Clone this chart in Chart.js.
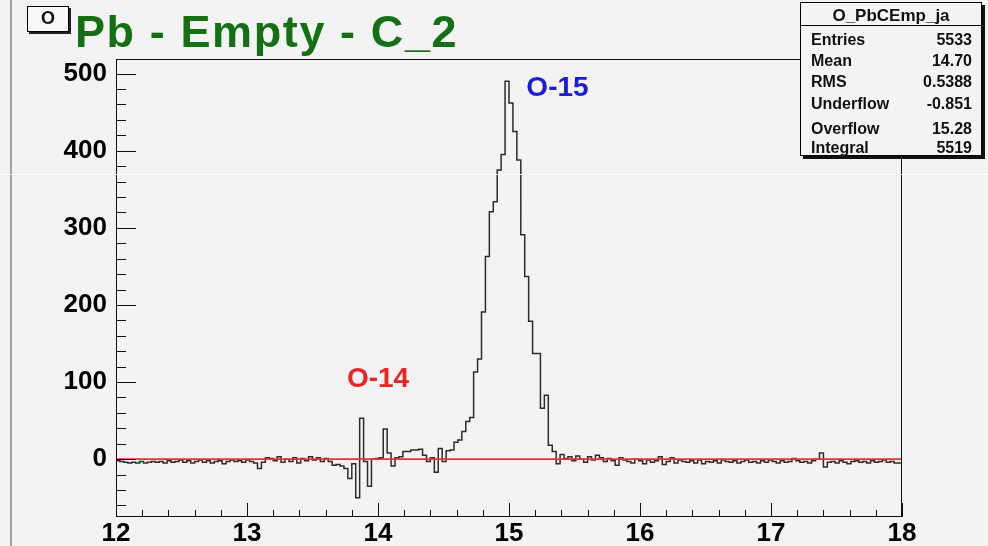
<!DOCTYPE html>
<html>
<head>
<meta charset="utf-8">
<title>Pb - Empty - C_2</title>
<script src="https://cdn.jsdelivr.net/npm/chart.js@4.4.1/dist/chart.umd.min.js"></script>
<style>
    html, body { margin: 0; padding: 0; background: #f3f3f3; }
    #wrap { position: relative; width: 988px; height: 546px; overflow: hidden;
            font-family: "Liberation Sans", Arial, sans-serif; }
    #wrap canvas { position: absolute; left: 0; top: 0; }
    #leftEdge { position: absolute; left: 10px; top: 0; width: 2px; height: 546px; background: #a4a4a4; }
    #titleBox { position: absolute; left: 27px; top: 6px; width: 42px; height: 26px; box-sizing: border-box;
                border: 1px solid #000; background: #f8f8f8; box-shadow: 2px 2px 0 #222;
                font-size: 18px; font-weight: bold; text-align: center; line-height: 22px; color: #111; }
    #title { position: absolute; left: 75px; top: 9px; font-size: 45px; line-height: 45px; font-weight: bold;
             letter-spacing: 1.6px; color: #157015; white-space: nowrap; }
    #stats { position: absolute; left: 800px; top: 2px; width: 182px; height: 154px; box-sizing: border-box;
             border: 1px solid #000; background: #f4f4f4; box-shadow: 3px 3px 0 #111; color: #111;
             font-weight: bold; }
    #stats .head { position: absolute; left: 0; right: 0; top: 0; height: 22px; border-bottom: 1px solid #000;
                   text-align: center; font-size: 17px; line-height: 25px; }
    #stats .row { position: absolute; left: 10px; right: 9px; height: 20px; line-height: 20px; font-size: 16px;
                  display: flex; justify-content: space-between; }
    #scanLine { position: absolute; left: 0; top: 174px; width: 988px; height: 1px; background: rgba(255,255,255,0.9); }
</style>
</head>
<body>
<div id="wrap">
    <canvas id="histo" width="988" height="546"></canvas>
    <div id="leftEdge"></div>
    <div id="titleBox">O</div>
    <div id="title">Pb - Empty - C_2</div>
    <div id="stats">
        <div class="head">O_PbCEmp_ja</div>
        <div class="row" style="top:27px"><span>Entries</span><span>5533</span></div>
        <div class="row" style="top:48px"><span>Mean</span><span>14.70</span></div>
        <div class="row" style="top:69px"><span>RMS</span><span>0.5388</span></div>
        <div class="row" style="top:91px"><span>Underflow</span><span>-0.851</span></div>
        <div class="row" style="top:116px"><span>Overflow</span><span>15.28</span></div>
        <div class="row" style="top:135px"><span>Integral</span><span>5519</span></div>
    </div>
    <div id="scanLine"></div>
</div>
<script>
// Histogram binning: 200 bins of 0.03 between 12 and 18
const xMin = 12;
const xMax = 18;
const binWidth = 0.03;

// Bin contents (background subtracted), left to right
const counts = [
    -3, -2, -3, -4, -5, -4, -5, -3, -5, -4,
    -3, -4, -3, -5, -2, -4, -3, -1, -4, -2,
    -5, -3, -1, -4, -2, -5, -3, -2, -6, -3,
    -1, -3, -2, -4, -1, -3, -5, -12, -4, 2,
    1, -2, 3, -4, 0, -3, 2, -5, 1, -2,
    3, -1, 2, -3, 1, -3, -8, -7, -9, -12,
    -25, -6, -50, 53, -3, -35, 0, 1, 2, 39,
    8, -9, 2, 3, 10, 10, 12, 12, 13, 5,
    -3, 2, -17, 14, -3, 11, 12, 22, 25, 36,
    49, 54, 113, 130, 191, 263, 321, 334, 375, 395,
    490, 462, 425, 388, 291, 237, 179, 137, 137, 66,
    83, 18, 10, -6, 6, 1, 3, -2, 4, 0,
    -4, 3, -1, 5, 2, -3, 1, -2, -8, 2,
    -1, -3, -5, 0, -2, -6, -1, -4, -2, 3,
    -7, -3, 2, -5, -1, -3, -4, -2, -5, -1,
    -6, -3, -4, -2, -5, -1, -3, -4, -2, -5,
    -3, -1, -4, -3, -5, -2, -4, -1, -3, -5,
    -2, -4, -3, 1, -2, -4, -3, -5, -2, 0,
    8, -10, -4, -3, -5, -2, -4, -6, -3, -2,
    -4, -3, -5, -2, -4, -3, -1, -4, -3, -5
];

// Zero-level fit line
const fitX = [12, 18];
const fitY = [0, 0];

// Axis labels
const xTickValues = [12, 13, 14, 15, 16, 17, 18];
const yTickValues = [0, 100, 200, 300, 400, 500];

// Peak annotations
const peakNames = ['O-15', 'O-14'];
const peakX = [15.37, 14.0];
const peakY = [481, 103];
const peakColors = ['#1c1cd2', '#ee2424'];

const FONT = '"Liberation Sans", Arial, sans-serif';

// bin left edges plus closing edge at xMax
const histPoints = counts.map((c, i) => ({ x: xMin + i * binWidth, y: c }));
histPoints.push({ x: xMax, y: counts[counts.length - 1] });

// frame box with inward ticks, like the usual pad frame
const frameTicks = {
    id: 'frameTicks',
    afterDatasetsDraw(chart) {
        const { ctx, chartArea: a, scales: { x, y } } = chart;
        ctx.save();
        ctx.strokeStyle = '#111';
        ctx.lineWidth = 1;
        ctx.strokeRect(Math.round(a.left) + 0.5, Math.round(a.top) + 0.5,
                       Math.round(a.width) - 1, Math.round(a.height) - 1);
        ctx.beginPath();
        for (let k = 0; k <= 30; k++) {
            const px = Math.round(x.getPixelForValue(xMin + k * 0.2)) + 0.5;
            const len = k % 5 === 0 ? 14 : 7;
            ctx.moveTo(px, a.bottom);
            ctx.lineTo(px, a.bottom - len);
        }
        for (let v = -60; v <= 500; v += 20) {
            const py = Math.round(y.getPixelForValue(v)) + 0.5;
            const len = v % 100 === 0 ? 20 : 10;
            ctx.moveTo(a.left, py);
            ctx.lineTo(a.left + len, py);
        }
        ctx.stroke();
        ctx.restore();
    }
};

const peakLabels = {
    id: 'peakLabels',
    afterDraw(chart) {
        const { ctx, scales: { x, y } } = chart;
        ctx.save();
        ctx.font = 'bold 28px ' + FONT;
        ctx.textAlign = 'center';
        ctx.textBaseline = 'middle';
        peakNames.forEach((name, i) => {
            ctx.fillStyle = peakColors[i];
            ctx.fillText(name, x.getPixelForValue(peakX[i]), y.getPixelForValue(peakY[i]));
        });
        ctx.restore();
    }
};

const tickFont = { family: FONT, size: 26, weight: 'bold' };

new Chart(document.getElementById('histo'), {
    type: 'line',
    data: {
        datasets: [{
            label: 'fit',
            data: fitX.map((v, i) => ({ x: v, y: fitY[i] })),
            borderColor: 'rgb(228, 52, 52)',
            borderWidth: 1.6,
            pointRadius: 0
        }, {
            label: 'O_PbCEmp_ja',
            data: histPoints,
            stepped: 'after',
            borderColor: '#2c2c2c',
            borderWidth: 1.5,
            pointRadius: 0
        }]
    },
    options: {
        responsive: false,
        animation: false,
        layout: { padding: { top: 59, right: 86, left: 0, bottom: 0 } },
        plugins: {
            legend: { display: false },
            tooltip: { enabled: false }
        },
        scales: {
            x: {
                type: 'linear',
                min: xMin,
                max: xMax,
                grid: { display: false, drawTicks: false },
                border: { display: false },
                afterBuildTicks: s => { s.ticks = xTickValues.map(v => ({ value: v })); },
                afterFit: s => { s.height = 29; },
                ticks: { color: '#000', font: tickFont, padding: 1, maxRotation: 0, autoSkip: false }
            },
            y: {
                min: -75,
                max: 519,
                grid: { display: false, drawTicks: false },
                border: { display: false },
                afterBuildTicks: s => { s.ticks = yTickValues.map(v => ({ value: v })); },
                afterFit: s => { s.width = 116; },
                ticks: { color: '#000', font: tickFont, padding: 9 }
            }
        }
    },
    plugins: [frameTicks, peakLabels]
});
</script>
</body>
</html>
